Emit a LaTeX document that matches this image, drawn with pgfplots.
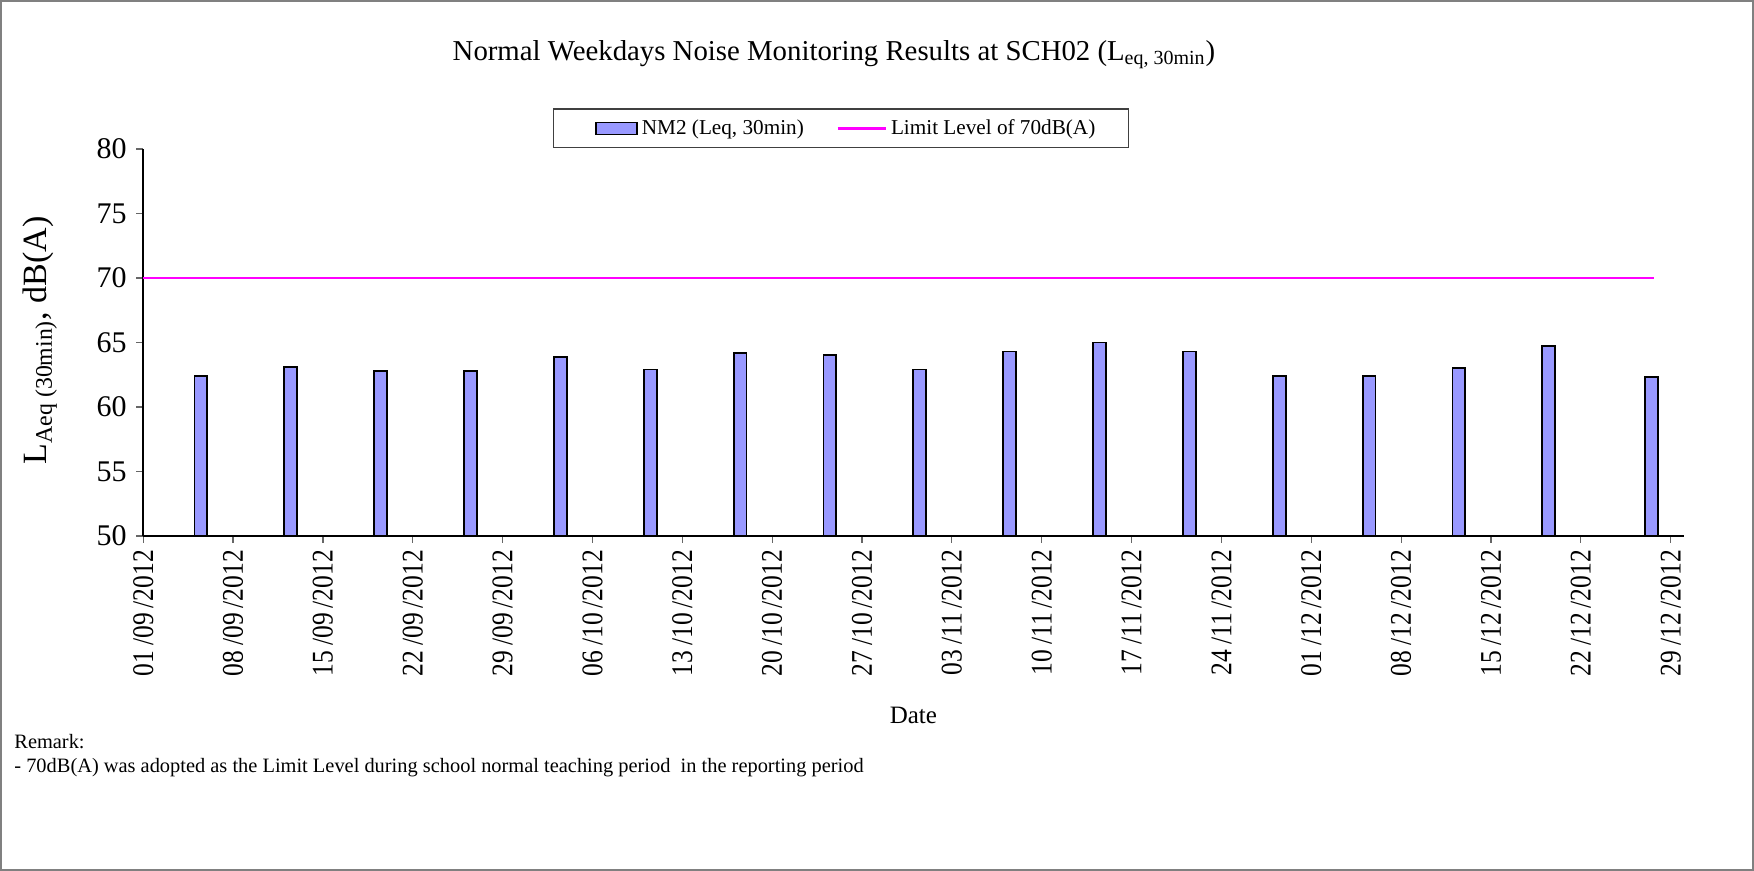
\documentclass[border=0pt]{standalone}
\usepackage{fontspec}
\setmainfont{Liberation Serif}
\newfontfamily\tickfont[FakeStretch=0.85]{Liberation Serif}
\usepackage{pgfplots}
\pgfplotsset{compat=1.18}
\definecolor{barblue}{HTML}{9999FF}
\definecolor{limitmag}{HTML}{FF00FF}
\definecolor{framegray}{HTML}{808080}

\begin{document}
\begin{tikzpicture}
\useasboundingbox (0,0) rectangle (877pt,-435.5pt);
\draw[framegray, line width=1pt] (0.5pt,-0.5pt) rectangle (876.5pt,-435pt);
\node[font=\fontsize{14.4}{17}\selectfont] at (417pt,-27.2pt) {Normal Weekdays Noise Monitoring Results at SCH02 (L\textsubscript{eq, 30min})};
\begin{axis}[
  at={(71.6pt,-74.5pt)}, anchor=north west,
  scale only axis, width=770.15pt, height=193.5pt,
  xmin=0, xmax=120, ymin=50, ymax=80,
  xtick={0,7,...,119}, ytick={50,55,...,80},
  xticklabels={01\,/09\,/2012,08\,/09\,/2012,15\,/09\,/2012,22\,/09\,/2012,29\,/09\,/2012,06\,/10\,/2012,13\,/10\,/2012,20\,/10\,/2012,27\,/10\,/2012,03\,/11\,/2012,10\,/11\,/2012,17\,/11\,/2012,24\,/11\,/2012,01\,/12\,/2012,08\,/12\,/2012,15\,/12\,/2012,22\,/12\,/2012,29\,/12\,/2012},
  axis x line*=bottom, axis y line*=left,
  axis line style={-, black, line width=0.8pt},
  tick align=outside, major tick length=3.5pt,
  tick style={black!60, line width=0.6pt},
  x tick label style={rotate=90, anchor=east, font=\tickfont\fontsize{15}{17}\selectfont},
  y tick label style={font=\fontsize{15}{17}\selectfont, xshift=-1.3pt},
  /pgf/number format/assume math mode=true,
  xlabel={Date},
  xlabel style={at={(axis description cs:0.5,-0.464)}, anchor=center, font=\fontsize{12.5}{14}\selectfont},
  ylabel={L\textsubscript{Aeq (30min)}, dB(A)},
  ylabel style={at={(axis description cs:-0.067,0.506)}, anchor=center, font=\fontsize{17}{20}\selectfont},
  legend columns=2, legend cell align=left,
  legend style={at={(axis description cs:0.2658,1.1047)}, anchor=north west,
    draw=black!75, line width=0.6pt, font=\fontsize{10.6}{12}\selectfont,
    inner xsep=14.4pt, inner ysep=3.2pt,
    /tikz/every even column/.append style={column sep=14.4pt}},
]
\addplot[ybar, bar width=1, fill=barblue, draw=black, line width=0.9pt,
  legend image code/.code={\path[draw=none,fill=none] (0pt,0pt) -- (6.8pt,0pt);
    \draw[fill=barblue,draw=black,line width=0.9pt] (6.8pt,-3pt) rectangle (27.5pt,3pt);}]
  coordinates {(4.5,62.4) (11.5,63.1) (18.5,62.8) (25.5,62.8) (32.5,63.9) (39.5,62.9) (46.5,64.2) (53.5,64.0) (60.5,62.9) (67.5,64.3) (74.5,65.0) (81.5,64.3) (88.5,62.4) (95.5,62.4) (102.5,63.0) (109.5,64.7) (117.5,62.3)};
\addlegendentry{NM2 (Leq, 30min)}
\addplot[limitmag, line width=1.2pt,
  legend image code/.code={\draw[limitmag,line width=1.2pt] (0pt,0pt) -- (24pt,0pt);}]
  coordinates {(0,70) (117.7,70)};
\addlegendentry{Limit Level of 70dB(A)}
\end{axis}
\node[anchor=base west, inner sep=0pt, font=\fontsize{10.2}{12}\selectfont] at (7pt,-374pt) {Remark:};
\node[anchor=base west, inner sep=0pt, font=\fontsize{10.2}{12}\selectfont] at (7pt,-386pt) {- 70dB(A) was adopted as the Limit Level during school normal teaching period\ \ in the reporting period};
\end{tikzpicture}
\end{document}
